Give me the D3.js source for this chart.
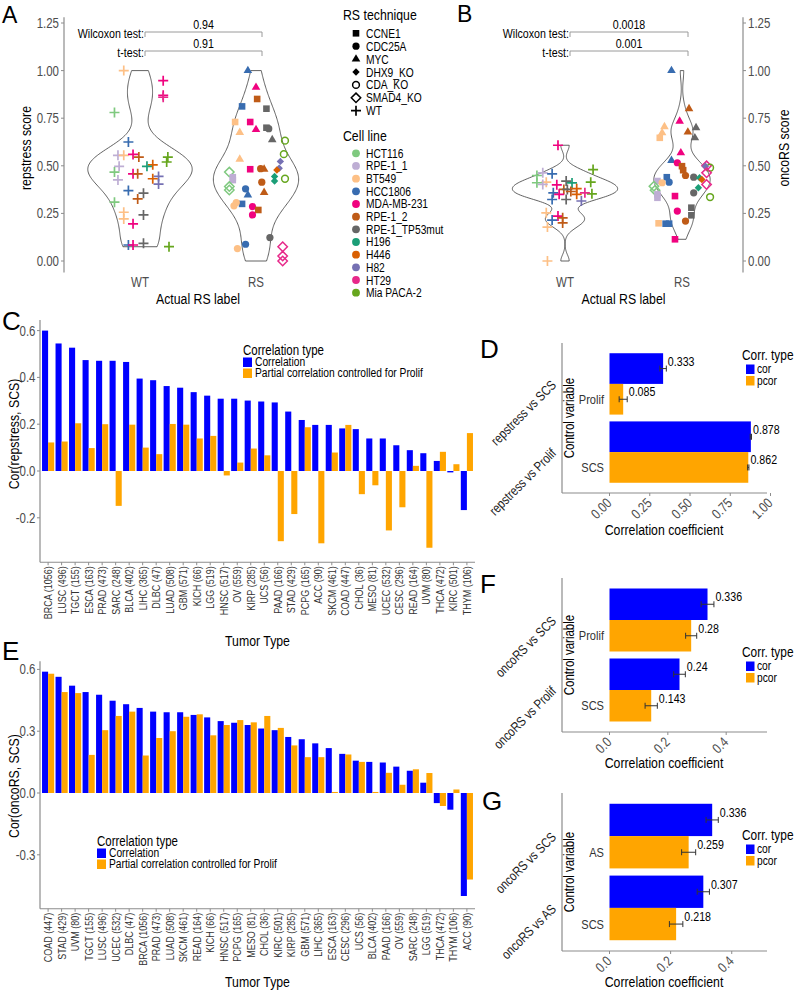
<!DOCTYPE html>
<html>
<head>
<meta charset="utf-8">
<script src="https://cdn.jsdelivr.net/npm/d3@7/dist/d3.min.js"></script>
<style>
html,body{margin:0;padding:0;background:#fff;}
svg{display:block;}
</style>
</head>
<body>
<svg id="chart" width="797" height="996"></svg>
<script>
// ================= DATA =================
const rsLabels = ["WT", "RS"];
const scoreTicks = [0, 0.25, 0.5, 0.75, 1, 1.25];
const testNames = ["Wilcoxon test:", "t-test:"];
const pValuesA = ["0.94", "0.91"];
const pValuesB = ["0.0018", "0.001"];

const techniques = ["CCNE1", "CDC25A", "MYC", "DHX9_KO", "CDA_KO", "SMAD4_KO", "WT"];
const cellLines = ["HCT116", "RPE-1_1", "BT549", "HCC1806", "MDA-MB-231", "RPE-1_2",
  "RPE-1_TP53mut", "H196", "H446", "H82", "HT29", "Mia PACA-2"];
const cellColors = ["#7FC97F", "#BEAED4", "#FDC086", "#386CB0", "#F0027F", "#BF5B17",
  "#666666", "#1B9E77", "#D95F02", "#7570B3", "#E7298A", "#66A61E"];

// repstress score, WT samples: [score, cell line index, jitter]
const repstressWT = [
  [1.00,2,-0.14],[0.947,4,0.20],[0.87,4,0.20],[0.86,10,0.20],[0.78,0,-0.22],[0.625,3,-0.10],
  [0.555,1,-0.19],[0.555,2,-0.14],[0.56,4,-0.06],[0.546,5,-0.01],[0.546,11,0.24],[0.52,11,0.23],
  [0.505,8,0.11],[0.497,7,0.06],[0.497,1,-0.18],[0.467,0,-0.22],[0.458,4,-0.06],[0.458,5,-0.02],
  [0.444,9,0.16],[0.432,8,0.11],[0.426,1,-0.19],[0.404,9,0.16],[0.37,3,-0.10],[0.356,6,0.03],
  [0.326,5,-0.02],[0.309,0,-0.22],[0.256,2,-0.14],[0.221,2,-0.14],[0.242,6,0.03],[0.195,4,-0.06],
  [0.084,3,-0.10],[0.084,4,-0.06],[0.093,6,0.03],[0.075,11,0.25]
];
// repstress score, RS samples: [score, cell line index, technique index, jitter]
const repstressRS = [
  [1.00,3,2,-0.07],[0.912,4,2,0.00],[0.851,5,0,0.01],[0.812,3,0,-0.12],[0.80,6,0,0.09],
  [0.73,2,0,-0.18],[0.73,4,0,-0.05],[0.70,6,0,0.09],[0.695,6,1,0.11],[0.69,4,2,0.00],
  [0.675,2,2,-0.14],[0.637,6,2,0.14],[0.632,11,4,0.25],[0.561,11,4,0.24],[0.535,2,2,-0.14],
  [0.523,9,3,0.21],[0.482,4,0,-0.05],[0.485,5,1,0.04],[0.482,5,2,0.07],[0.487,9,3,0.20],
  [0.478,8,3,0.18],[0.467,0,5,-0.23],[0.44,1,0,-0.20],[0.425,1,0,-0.20],[0.432,11,4,0.25],
  [0.444,7,3,0.16],[0.42,7,3,0.16],[0.414,5,1,0.05],[0.379,3,1,-0.09],[0.391,0,5,-0.23],
  [0.373,0,5,-0.23],[0.347,3,2,-0.07],[0.36,5,2,0.07],[0.30,3,0,-0.12],[0.307,2,1,-0.17],
  [0.29,2,1,-0.19],[0.286,4,1,-0.03],[0.268,5,0,0.02],[0.242,4,1,-0.03],[0.088,3,1,-0.09],
  [0.065,2,1,-0.16],[0.123,6,1,0.12],[0.075,10,5,0.23],[0.026,10,5,0.23],[0.0,10,5,0.23]
];
// oncoRS score, WT samples
const oncoWT = [
  [0.608,4,-0.06],[0.449,0,-0.24],[0.463,1,-0.19],[0.458,3,-0.11],[0.414,2,-0.16],[0.411,0,-0.24],
  [0.402,1,-0.19],[0.48,11,0.24],[0.414,11,0.22],[0.353,11,0.23],[0.41,7,0.06],[0.42,6,0.01],
  [0.40,4,-0.07],[0.376,5,-0.01],[0.376,6,0.02],[0.38,8,0.10],[0.358,3,-0.10],[0.35,4,-0.05],
  [0.323,6,0.01],[0.323,3,-0.11],[0.35,8,0.10],[0.315,9,0.14],[0.358,10,0.17],[0.365,5,0.05],
  [0.253,2,-0.16],[0.236,4,-0.06],[0.215,3,-0.11],[0.227,5,-0.02],[0.20,5,-0.02],[0.178,2,-0.15],
  [0.0,2,-0.15]
];
// oncoRS score, RS samples
const oncoRS = [
  [1.0,3,2,-0.09],[0.80,5,2,0.06],[0.734,4,2,-0.02],[0.705,2,2,-0.15],[0.70,6,2,0.12],
  [0.673,2,2,-0.17],[0.677,5,2,0.05],[0.647,2,0,-0.19],[0.647,6,2,0.11],[0.568,4,2,-0.01],
  [0.528,3,2,-0.09],[0.516,4,1,-0.04],[0.498,5,0,0.00],[0.477,5,0,0.01],[0.50,10,5,0.21],
  [0.49,11,4,0.24],[0.498,9,3,0.20],[0.463,10,5,0.21],[0.449,5,1,0.03],[0.44,6,1,0.10],
  [0.437,7,3,0.15],[0.428,8,3,0.17],[0.44,3,0,-0.13],[0.414,3,1,-0.11],[0.42,1,0,-0.21],
  [0.411,2,1,-0.17],[0.393,0,5,-0.24],[0.402,10,5,0.21],[0.385,7,3,0.14],[0.372,0,5,-0.23],
  [0.35,1,0,-0.21],[0.332,1,0,-0.21],[0.358,6,1,0.10],[0.341,4,0,-0.06],[0.336,11,4,0.24],
  [0.28,6,0,0.08],[0.262,4,1,-0.04],[0.24,6,0,0.08],[0.21,5,1,0.03],[0.198,2,0,-0.20],
  [0.196,3,0,-0.14],[0.196,3,0,-0.11],[0.114,4,0,-0.06]
];

// Panel C
const tumorC = ["BRCA (1056)","LUSC (496)","TGCT (155)","ESCA (163)","PRAD (473)","SARC (248)",
  "BLCA (402)","LIHC (365)","DLBC (47)","LUAD (508)","GBM (571)","KICH (66)","LGG (519)",
  "HNSC (517)","OV (559)","KIRP (285)","UCS (56)","PAAD (166)","STAD (429)","PCPG (165)",
  "ACC (90)","SKCM (461)","COAD (447)","CHOL (36)","MESO (81)","UCEC (532)","CESC (296)",
  "READ (164)","UVM (80)","THCA (472)","KIRC (501)","THYM (106)"];
const corC = [0.60,0.545,0.527,0.474,0.471,0.471,0.466,0.395,0.388,0.363,0.356,0.337,0.322,
  0.309,0.309,0.301,0.297,0.293,0.254,0.218,0.197,0.197,0.182,0.179,0.139,0.139,0.11,0.089,
  0.076,0.043,-0.006,-0.167];
const pcorC = [0.122,0.126,0.204,0.098,0.20,-0.149,0.198,0.10,0.072,0.201,0.198,0.139,0.15,
  -0.019,0.036,0.096,0.067,-0.30,-0.184,0.187,-0.309,0.079,0.197,-0.099,-0.061,-0.254,-0.155,
  0.022,-0.328,0.082,0.029,0.162];
const ticksC = [-0.2, 0, 0.2, 0.4, 0.6];

// Panel E
const tumorE = ["COAD (447)","STAD (429)","UVM (80)","TGCT (155)","LUSC (496)","UCEC (532)",
  "DLBC (47)","BRCA (1056)","PRAD (473)","LUAD (508)","SKCM (461)","READ (164)","KICH (66)",
  "HNSC (517)","PCPG (165)","MESO (81)","CHOL (36)","KIRC (501)","KIRP (285)","GBM (571)",
  "LIHC (365)","ESCA (163)","CESC (296)","UCS (56)","BLCA (402)","PAAD (166)","OV (559)",
  "SARC (248)","LGG (519)","THCA (472)","THYM (106)","ACC (90)"];
const corE = [0.589,0.564,0.521,0.49,0.477,0.448,0.431,0.413,0.395,0.392,0.392,0.379,0.367,
  0.349,0.341,0.33,0.313,0.305,0.272,0.261,0.241,0.218,0.19,0.157,0.151,0.148,0.128,0.108,
  0.05,-0.049,-0.081,-0.50];
const pcorE = [0.579,0.49,0.485,0.185,0.305,0.374,0.395,0.182,0.267,0.30,0.37,0.382,0.28,
  0.33,0.354,0.343,0.374,0.316,0.231,0.174,0.174,0.005,0.187,0.151,0.005,0.098,0.04,0.115,
  0.097,-0.063,0.017,-0.42];
const ticksE = [-0.3, 0, 0.3, 0.6];

const corrTypeLong = ["Correlation", "Partial correlation controlled for Prolif"];
const corrTypeShort = ["cor", "pcor"];

// Panel D
const ctrlD = ["Prolif", "SCS"];
const pairsD = ["repstress vs SCS", "repstress vs Prolif"];
const corD = [0.333, 0.878], corErrD = [0.02, 0.004];
const pcorD = [0.085, 0.862], pcorErrD = [0.025, 0.004];
const ticksD = [0, 0.25, 0.5, 0.75, 1];
// Panel F
const ctrlF = ["Prolif", "SCS"];
const pairsF = ["oncoRS vs SCS", "oncoRS vs Prolif"];
const corF = [0.336, 0.24], corErrF = [0.022, 0.02];
const pcorF = [0.28, 0.143], pcorErrF = [0.019, 0.021];
const ticksF = [0, 0.2, 0.4];
// Panel G
const ctrlG = ["AS", "SCS"];
const pairsG = ["oncoRS vs SCS", "oncoRS vs AS"];
const corG = [0.336, 0.307], corErrG = [0.02, 0.02];
const pcorG = [0.259, 0.218], pcorErrG = [0.023, 0.022];
const ticksG = [0, 0.2, 0.4];

// ================= SETUP =================
const BLUE = "#0000FF", ORANGE = "#FFA500", TICK = "#4d4d4d", AXIS = "#8c8c8c";
function hasFont(name) {
  const c = document.createElement("canvas").getContext("2d");
  const s = "abcdefghijklmnopqrstuvwxyzABCDEFGHIJ0123456789";
  c.font = "40px monospace"; const a = c.measureText(s).width;
  c.font = `40px '${name}', monospace`; const b = c.measureText(s).width;
  c.font = "40px serif"; const e = c.measureText(s).width;
  c.font = `40px '${name}', serif`; const f = c.measureText(s).width;
  return a !== b || e !== f;
}
const NARROW = hasFont("Liberation Sans Narrow");
const FONT = NARROW ? "'Liberation Sans Narrow', 'Arial Narrow', sans-serif" : "'Liberation Sans', Arial, sans-serif";
const SQUEEZE = NARROW ? 1 : 0.82;   // horizontal squeeze of the text when no narrow face exists

const svg = d3.select("#chart");
svg.append("rect").attr("width", 797).attr("height", 996).attr("fill", "#fff");
const root = svg.append("g").attr("font-family", FONT);

function txt(parent, x, y, s, o = {}) {
  const k = o.letter ? 1 : SQUEEZE;
  const t = parent.append("text").attr("x", 0).attr("y", 0).text(s)
    .attr("font-size", o.size || 13).attr("fill", o.fill || "#000")
    .attr("text-anchor", o.anchor || "start")
    .attr("transform", `translate(${x},${y}) rotate(${o.rotate || 0}) scale(${k},1)`);
  if (o.dy) t.attr("dy", o.dy);
  if (o.letter) t.attr("font-family", "'Liberation Sans', Arial, sans-serif");
  return t;
}
function shapeD(t) {
  switch (t) {
    case 0: return "M-3.3,-3.3H3.3V3.3H-3.3Z";
    case 1: return d3.symbol(d3.symbolCircle, 41)();
    case 2: return "M0,-4.9L4.3,2.5L-4.3,2.5Z";
    case 3: return "M0,-3.7L3.7,0L0,3.7L-3.7,0Z";
    case 4: return d3.symbol(d3.symbolCircle, 36)();
    case 5: return "M0,-4.7L4.7,0L0,4.7L-4.7,0Z";
    default: return "M-5,0H5M0,-5V5";
  }
}
function drawShape(g, x, y, t, col) {
  const p = g.append("path").attr("d", shapeD(t)).attr("transform", `translate(${x},${y})`);
  if (t <= 3) p.attr("fill", col).attr("stroke", "none");
  else p.attr("fill", "none").attr("stroke", col).attr("stroke-width", t === 6 ? 1.7 : 1.5);
}
function kde(vals) {
  const s = vals.slice().sort(d3.ascending), n = s.length;
  const sd = d3.deviation(s), iqr = d3.quantileSorted(s, 0.75) - d3.quantileSorted(s, 0.25);
  const bw = 0.9 * Math.min(sd, iqr / 1.34) * Math.pow(n, -0.2);
  const lo = s[0], hi = s[n - 1];
  return d3.range(0, 161).map(i => {
    const y = lo + (hi - lo) * i / 160;
    return [y, d3.mean(s, v => Math.exp(-0.5 * ((y - v) / bw) ** 2)) / (bw * Math.sqrt(2 * Math.PI))];
  });
}

// ================= PANELS A / B =================
const yScore = d3.scaleLinear().domain([0, 1.25]).range([261, 23]);

function violinPanel(o) {
  const g = root.append("g");
  const x = o.x, step = x.step();
  const groups = [
    { label: "WT", pts: o.wt.map(d => ({ v: d[0], cell: d[1], tech: 6, j: d[2] })) },
    { label: "RS", pts: o.rs.map(d => ({ v: d[0], cell: d[1], tech: d[2], j: d[3] })) }
  ];
  const dens = groups.map(gr => kde(gr.pts.map(p => p.v)));
  const maxD = d3.max(dens, ds => d3.max(ds, d => d[1]));
  const w = d3.scaleLinear().domain([0, maxD]).range([0, 0.45 * step]);
  groups.forEach((gr, i) => {
    const cx = x(gr.label);
    const area = d3.area().y(d => yScore(d[0])).x0(d => cx - w(d[1])).x1(d => cx + w(d[1]));
    g.append("path").attr("d", area(dens[i])).attr("fill", "none")
      .attr("stroke", "#3a3a3a").attr("stroke-width", 0.8);
  });
  groups.forEach(gr => {
    const cx = x(gr.label);
    gr.pts.forEach(p => drawShape(g, cx + p.j * step, yScore(p.v), p.tech, cellColors[p.cell]));
  });
  // y axis
  const ax = o.axisX, dir = o.side === "left" ? -1 : 1;
  g.append("line").attr("x1", ax).attr("x2", ax).attr("y1", yScore(-0.06)).attr("y2", yScore(1.28))
    .attr("stroke", AXIS).attr("stroke-width", 1.2);
  scoreTicks.forEach(t => {
    g.append("line").attr("x1", ax).attr("x2", ax + dir * 3).attr("y1", yScore(t)).attr("y2", yScore(t))
      .attr("stroke", AXIS).attr("stroke-width", 1);
    txt(g, ax + dir * 5, yScore(t) + 5, t.toFixed(2), { size: 14, fill: TICK, anchor: dir < 0 ? "end" : "start" });
  });
  txt(g, o.titleX, (yScore(0) + yScore(1.25)) / 2 + 6, o.title, { size: 15, anchor: "middle", rotate: -90 });
  // x labels
  rsLabels.forEach(l => txt(g, x(l), 287, l, { size: 14, fill: TICK, anchor: "middle" }));
  txt(g, (x("WT") + x("RS")) / 2, 304, "Actual RS label", { size: 15, anchor: "middle" });
  // brackets
  const bx1 = x("WT") + 5, bx2 = x("RS") + 6;
  [[32, 37.5, 28.5], [51, 57, 47.5]].forEach(([by, tb, pb], i) => {
    g.append("path").attr("d", `M${bx1},${by + 5}V${by}H${bx2}V${by + 5}`)
      .attr("fill", "none").attr("stroke", "#9a9a9a").attr("stroke-width", 1);
    txt(g, bx1 - 1, tb, testNames[i], { size: 13, anchor: "end" });
    txt(g, (bx1 + bx2) / 2, pb, o.pvals[i], { size: 13, anchor: "middle" });
  });
}
violinPanel({ x: d3.scalePoint().domain(rsLabels).range([140, 256]), wt: repstressWT, rs: repstressRS,
  axisX: 64, side: "left", title: "repstress score", titleX: 31, pvals: pValuesA });
violinPanel({ x: d3.scalePoint().domain(rsLabels).range([565, 682]), wt: oncoWT, rs: oncoRS,
  axisX: 743, side: "right", title: "oncoRS score", titleX: 789, pvals: pValuesB });

// legend A
{
  const g = root.append("g");
  txt(g, 343, 20, "RS technique", { size: 15 });
  techniques.forEach((t, i) => {
    const yc = 33.3 + i * 12.9;
    drawShape(g, 356, yc, i, "#000");
    txt(g, 366, yc + 4.5, t, { size: 12.5 });
  });
  txt(g, 343, 141, "Cell line", { size: 15 });
  cellLines.forEach((c, i) => {
    const yc = 153.3 + i * 12.67;
    g.append("circle").attr("cx", 356).attr("cy", yc).attr("r", 3.9).attr("fill", cellColors[i]);
    txt(g, 366, yc + 4.5, c, { size: 12.5 });
  });
}

// ================= PANELS C / E =================
function vbarPanel(o) {
  const g = root.append("g");
  const x = d3.scaleBand().domain(o.cats).range([40, 475]).paddingInner(0.1).paddingOuter(0.15);
  const y = d3.scaleLinear().domain([0, 0.6]).range([o.zeroY, o.sixY]);
  const bw = x.bandwidth() / 2;
  o.cats.forEach((c, i) => {
    [[o.cor[i], BLUE, 0], [o.pcor[i], ORANGE, bw]].forEach(([v, col, off]) => {
      g.append("rect").attr("x", x(c) + off).attr("y", Math.min(y(v), y(0)))
        .attr("width", bw).attr("height", Math.abs(y(v) - y(0))).attr("fill", col);
    });
  });
  const top = y(o.axisMax), bottom = y(o.axisMin);
  g.append("line").attr("x1", 40).attr("x2", 40).attr("y1", top).attr("y2", bottom).attr("stroke", AXIS).attr("stroke-width", 1.2);
  g.append("line").attr("x1", 40).attr("x2", 475).attr("y1", bottom).attr("y2", bottom).attr("stroke", AXIS).attr("stroke-width", 1.2);
  o.ticks.forEach(t => {
    g.append("line").attr("x1", 37).attr("x2", 40).attr("y1", y(t)).attr("y2", y(t)).attr("stroke", AXIS);
    txt(g, 35.5, y(t) + 5, t.toFixed(1), { size: 14, fill: TICK, anchor: "end" });
  });
  o.cats.forEach(c => {
    const cx = x(c) + x.bandwidth() / 2;
    g.append("line").attr("x1", cx).attr("x2", cx).attr("y1", bottom).attr("y2", bottom + 3).attr("stroke", AXIS);
    txt(g, cx, bottom + 4, c, { size: 11, fill: "#333", anchor: "end", rotate: -90, dy: "0.36em" });
  });
  txt(g, 257.5, o.xTitleY, "Tumor Type", { size: 15, anchor: "middle" });
  txt(g, 19, o.yTitleY, o.yTitle, { size: 15, anchor: "middle", rotate: -90 });
  // legend
  const lx = o.legX, ly = o.legY;
  txt(g, lx, ly, "Correlation type", { size: 14 });
  [BLUE, ORANGE].forEach((col, i) => {
    g.append("rect").attr("x", lx).attr("y", ly + 2.5 + i * 11).attr("width", 9).attr("height", 9.5).attr("fill", col);
    txt(g, lx + 12, ly + 11 + i * 11, corrTypeLong[i], { size: 12.5 });
  });
}
vbarPanel({ cats: tumorC, cor: corC, pcor: pcorC, ticks: ticksC, zeroY: 471, sixY: 330.6,
  axisMax: 0.645, axisMin: -0.39, xTitleY: 646, yTitle: "Cor(repstress, SCS)", yTitleY: 434,
  legX: 243, legY: 355 });
vbarPanel({ cats: tumorE, cor: corE, pcor: pcorE, ticks: ticksE, zeroY: 793, sixY: 669.4,
  axisMax: 0.64, axisMin: -0.562, xTitleY: 987, yTitle: "Cor(oncoRS, SCS)", yTitleY: 786,
  legX: 97, legY: 846 });

// ================= PANELS D / F / G =================
function fmtVal(v) { return String(+v.toFixed(3)); }
function hbarPanel(o) {
  const g = root.append("g");
  const y = d3.scaleBand().domain(o.cats).range(o.yRange).paddingInner(0.1).paddingOuter(0.15);
  const x = d3.scaleLinear().domain([0, 1]).range([609.5, 609.5 + o.unit]);
  const bh = y.bandwidth() / 2;
  o.cats.forEach((c, i) => {
    const rows = [
      { v: o.cor[i], e: o.corErr[i], col: BLUE, y0: y(c) },
      { v: o.pcor[i], e: o.pcorErr[i], col: ORANGE, y0: y(c) + bh }
    ];
    rows.forEach(r => {
      g.append("rect").attr("x", x(0)).attr("y", r.y0).attr("width", x(r.v) - x(0)).attr("height", bh).attr("fill", r.col);
    });
    rows.forEach(r => {
      const cy = r.y0 + bh / 2, a = x(r.v - r.e), b = x(r.v + r.e);
      g.append("path").attr("d", `M${a},${cy}H${b}M${a},${cy - 3}V${cy + 3}M${b},${cy - 3}V${cy + 3}`)
        .attr("stroke", "#333").attr("stroke-width", 1).attr("fill", "none");
      txt(g, b + 1.5, cy - 3, fmtVal(r.v), { size: 13 });
    });
    txt(g, 604, y(c) + bh * 1.5 + 4.5, c, { size: 13.5, anchor: "end", fill: "#333" });
    txt(g, 557, y(c) + bh + 2, o.pairs[i], { size: 13.5, anchor: "end", rotate: -45, fill: "#1a1a1a" });
  });
  const top = o.yRange[0], bottom = o.yRange[1];
  g.append("line").attr("x1", 562).attr("x2", 562).attr("y1", top).attr("y2", bottom).attr("stroke", AXIS).attr("stroke-width", 1.2);
  g.append("line").attr("x1", 562).attr("x2", 767).attr("y1", bottom).attr("y2", bottom).attr("stroke", AXIS).attr("stroke-width", 1.2);
  o.ticks.forEach(t => {
    g.append("line").attr("x1", x(t)).attr("x2", x(t)).attr("y1", bottom).attr("y2", bottom + 3).attr("stroke", AXIS);
    txt(g, x(t) + 3, bottom + 11, t.toFixed(o.dec), { size: 14, fill: TICK, anchor: "end", rotate: -45 });
  });
  txt(g, 664, o.xTitleY, "Correlation coefficient", { size: 15, anchor: "middle" });
  txt(g, 574, (top + bottom) / 2, "Control variable", { size: 14, anchor: "middle", rotate: -90 });
  const ly = o.legY;
  txt(g, 742, ly, "Corr. type", { size: 14.5 });
  [BLUE, ORANGE].forEach((col, i) => {
    g.append("rect").attr("x", 746).attr("y", ly + 4.5 + i * 11.5).attr("width", 8.5).attr("height", 9.5).attr("fill", col);
    txt(g, 757, ly + 13 + i * 11.5, corrTypeShort[i], { size: 12.5 });
  });
}
hbarPanel({ cats: ctrlD, pairs: pairsD, cor: corD, corErr: corErrD, pcor: pcorD, pcorErr: pcorErrD,
  yRange: [343, 493], unit: 161, ticks: ticksD, dec: 2, xTitleY: 535, legY: 360 });
hbarPanel({ cats: ctrlF, pairs: pairsF, cor: corF, corErr: corErrF, pcor: pcorF, pcorErr: pcorErrF,
  yRange: [578, 732], unit: 291.7, ticks: ticksF, dec: 1, xTitleY: 768, legY: 657 });
hbarPanel({ cats: ctrlG, pairs: pairsG, cor: corG, corErr: corErrG, pcor: pcorG, pcorErr: pcorErrG,
  yRange: [793, 951], unit: 305.6, ticks: ticksG, dec: 1, xTitleY: 987, legY: 840 });

// ================= PANEL LETTERS =================
[["A", 2, 22.5, 23], ["B", 457, 22, 23], ["C", 2, 330, 26], ["D", 480, 358, 26],
 ["E", 2, 660, 26], ["F", 480, 593, 26], ["G", 482, 810, 26]]
  .forEach(([l, x, y, s]) => txt(root, x, y, l, { size: s, letter: true }));
</script>
</body>
</html>
